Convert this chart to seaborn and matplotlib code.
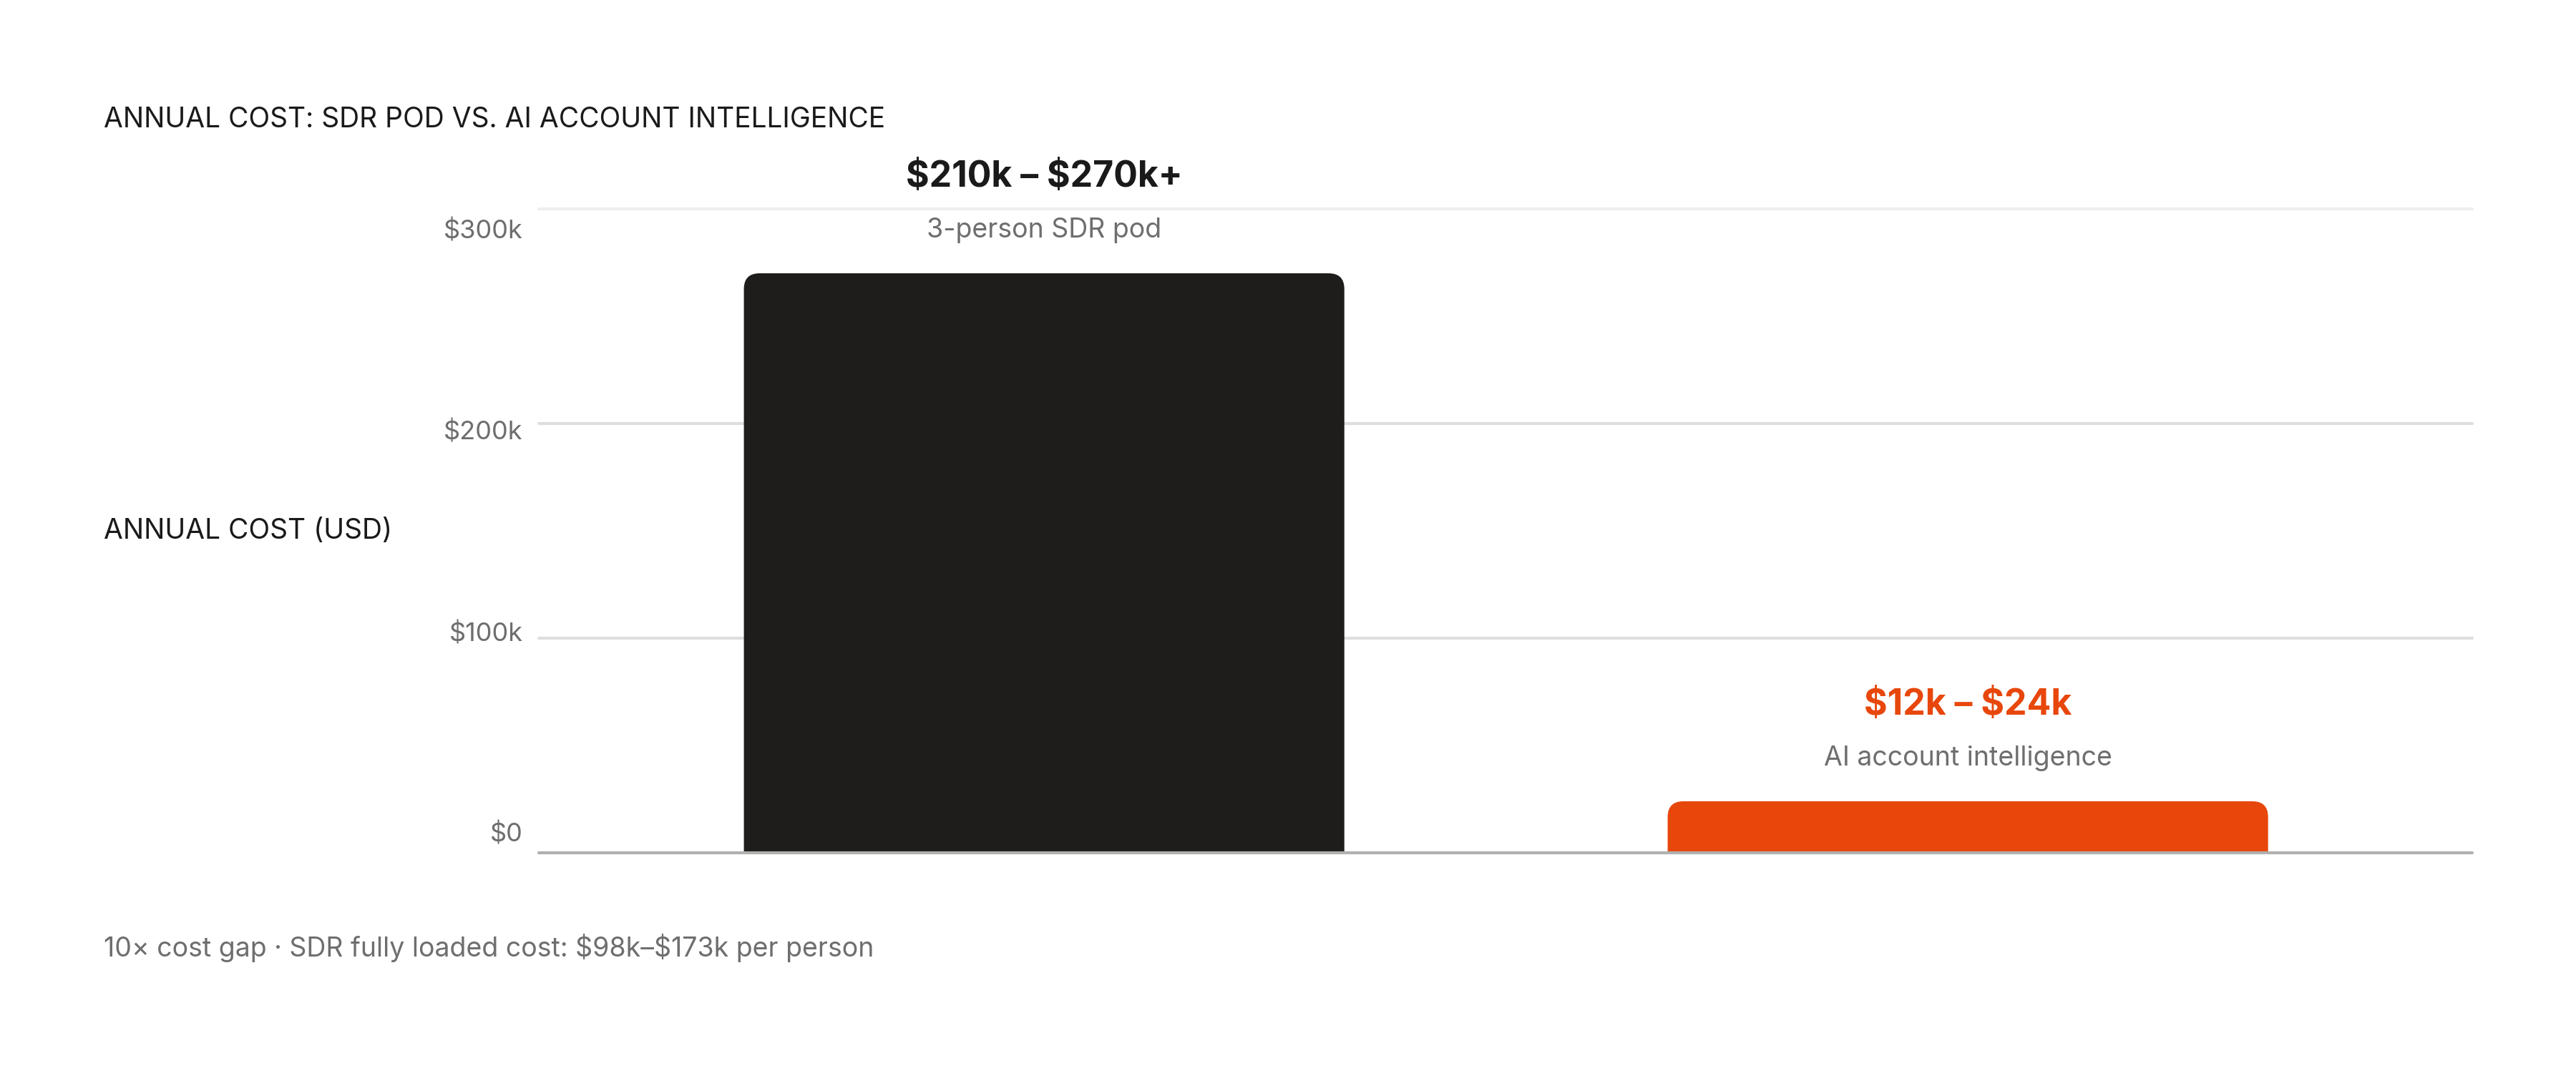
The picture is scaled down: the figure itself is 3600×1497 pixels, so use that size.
import matplotlib
matplotlib.use("Agg")
import matplotlib.pyplot as plt
import matplotlib.transforms as mtransforms
from matplotlib.patches import FancyBboxPatch
import seaborn as sns
import pandas as pd

# ---- data ----
categories = ["3-person SDR pod", "AI account intelligence"]
values = [270000, 24000]
range_labels = ["$210k – $270k+", "$12k – $24k"]
bar_colors = ["#1e1d1b", "#e8470c"]
label_colors = ["#1a1a1a", "#e8470c"]
yticks = [0, 100000, 200000, 300000]
ytick_labels = ["$0", "$100k", "$200k", "$300k"]
title = "ANNUAL COST: SDR POD VS. AI ACCOUNT INTELLIGENCE"
ylabel = "ANNUAL COST (USD)"
footnote = "10× cost gap · SDR fully loaded cost: $98k–$173k per person"

sns.set_theme(style="white")
plt.rcParams["font.family"] = ["Inter", "DejaVu Sans"]
plt.rcParams["text.parse_math"] = False

W, H, DPI = 3600, 1497, 200
fig = plt.figure(figsize=(W / DPI, H / DPI), dpi=DPI)
fig.patch.set_facecolor("white")

left, right = 753 / W, 3455 / W
bottom, top = 1 - 1192 / H, 1 - 292 / H
ax = fig.add_axes([left, bottom, right - left, top - bottom])

df = pd.DataFrame({"category": categories, "cost": values})
sns.barplot(data=df, x="category", y="cost", hue="category",
            palette=bar_colors, legend=False, width=0.65, ax=ax,
            saturation=1)

XMIN, XMAX = -0.547, 1.546
ax.set_xlim(XMIN, XMAX)
ax.set_ylim(0, 300000)

# gridlines
ax.set_yticks(yticks)
ax.set_yticklabels(ytick_labels)
grid_colors = {0: "#b0b0b0", 100000: "#dedede", 200000: "#dedede", 300000: "#efefef"}
for t in yticks:
    ax.axhline(t, color=grid_colors[t], lw=1.5,
               zorder=3 if t == 0 else 0.5, clip_on=False)

for s in ax.spines.values():
    s.set_visible(False)
ax.set_xticks([])
ax.set_xlabel("")
ax.set_ylabel("")
ax.tick_params(axis="y", length=0, pad=8, labelsize=13, labelcolor="#6e6e6e")
ax.set_facecolor("white")

# tick labels sit on an evenly compressed ladder in the reference
label_shift_pt = {0: 10.4, 100000: 3.2, 200000: -3.2, 300000: -10.0}
for t, lab in zip(ax.get_yticks(), ax.get_yticklabels()):
    dy = label_shift_pt.get(int(round(t)), 0) / 72.0
    lab.set_transform(lab.get_transform() +
                      mtransforms.ScaledTranslation(0, dy, fig.dpi_scale_trans))

# rounded top corners for bars (geometry taken from seaborn's bars)
ax_w_px = (right - left) * W
ax_h_px = (top - bottom) * H
x_per_px = (XMAX - XMIN) / ax_w_px
y_per_px = 300000 / ax_h_px
aspect = y_per_px / x_per_px
r = 22 * x_per_px
for patch, col in zip(list(ax.patches), bar_colors):
    x, w, h = patch.get_x(), patch.get_width(), patch.get_height()
    patch.set_visible(False)
    ext = r * aspect * 2
    fb = FancyBboxPatch((x, -ext), w, h + ext,
                        boxstyle=f"round,pad=0,rounding_size={r}",
                        mutation_aspect=aspect, facecolor=col,
                        edgecolor="none", zorder=2, clip_on=True)
    ax.add_patch(fb)

for i, (cat, val) in enumerate(zip(categories, values)):
    ax.annotate(range_labels[i], xy=(i, val), xytext=(0, 48.5),
                textcoords="offset points", ha="center", va="center",
                fontsize=18, fontweight="bold", color=label_colors[i],
                annotation_clip=False)
    ax.annotate(cat, xy=(i, val), xytext=(0, 21.5),
                textcoords="offset points", ha="center", va="center",
                fontsize=13.5, color="#6e6e6e", annotation_clip=False)

fig.text(145 / W, 1 - 168 / H, title, ha="left", va="center",
         fontsize=14, color="#1a1a1a")
fig.text(145 / W, 1 - 742 / H, ylabel, ha="left", va="center",
         fontsize=14, color="#1a1a1a")
fig.text(145 / W, 1 - 1325 / H, footnote, ha="left", va="center",
         fontsize=13.5, color="#6e6e6e")

fig.savefig("out.png", dpi=DPI, facecolor="white")
